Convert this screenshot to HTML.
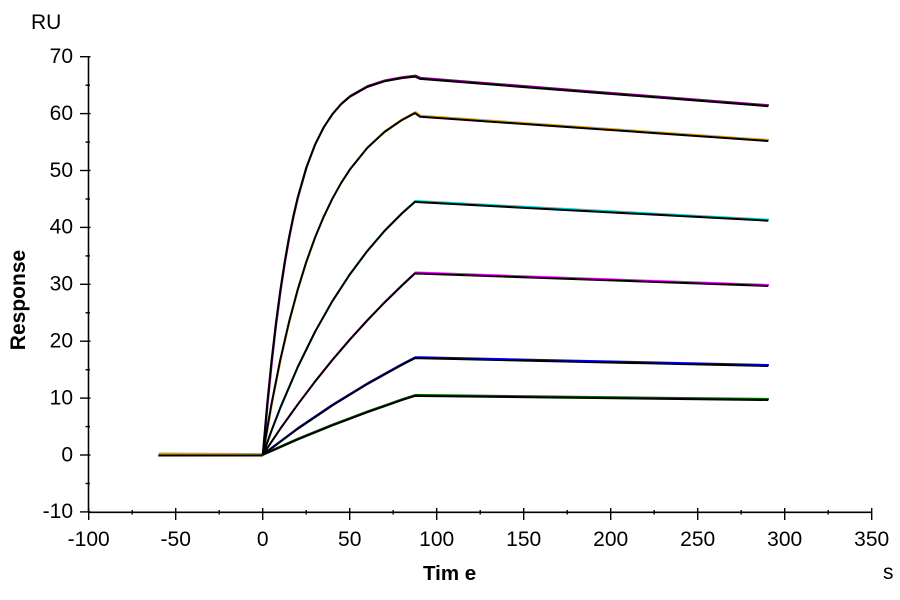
<!DOCTYPE html>
<html>
<head>
<meta charset="utf-8">
<style>
  html, body { margin: 0; padding: 0; background: #ffffff; }
  svg { display: block; }
  text { font-family: "Liberation Sans", Arial, sans-serif; fill: #000; }
</style>
</head>
<body>
<svg width="900" height="600" viewBox="0 0 900 600" xmlns="http://www.w3.org/2000/svg">
  <rect x="0" y="0" width="900" height="600" fill="#ffffff"/>

  <!-- Axes -->
  <g stroke="#000" stroke-width="1.6" fill="none">
    <line x1="88.5" y1="56.7" x2="88.5" y2="512.3"/>
    <line x1="88.5" y1="512.3" x2="871.7" y2="512.3"/>
  </g>

  <!-- Y ticks -->
  <g stroke="#000" stroke-width="1.4">
    <line x1="80" y1="56.7" x2="90.5" y2="56.7"/>
    <line x1="80" y1="113.6" x2="90.5" y2="113.6"/>
    <line x1="80" y1="170.5" x2="90.5" y2="170.5"/>
    <line x1="80" y1="227.4" x2="90.5" y2="227.4"/>
    <line x1="80" y1="284.3" x2="90.5" y2="284.3"/>
    <line x1="80" y1="341.2" x2="90.5" y2="341.2"/>
    <line x1="80" y1="398.1" x2="90.5" y2="398.1"/>
    <line x1="80" y1="455" x2="90.5" y2="455"/>
    <line x1="80" y1="511.9" x2="90.5" y2="511.9"/>
    <!-- minor -->
    <line x1="85.5" y1="85.2" x2="90" y2="85.2"/>
    <line x1="85.5" y1="142.1" x2="90" y2="142.1"/>
    <line x1="85.5" y1="199" x2="90" y2="199"/>
    <line x1="85.5" y1="255.9" x2="90" y2="255.9"/>
    <line x1="85.5" y1="312.8" x2="90" y2="312.8"/>
    <line x1="85.5" y1="369.7" x2="90" y2="369.7"/>
    <line x1="85.5" y1="426.6" x2="90" y2="426.6"/>
    <line x1="85.5" y1="483.5" x2="90" y2="483.5"/>
  </g>

  <!-- X ticks -->
  <g stroke="#000" stroke-width="1.4">
    <line x1="88.7" y1="508" x2="88.7" y2="520"/>
    <line x1="175.7" y1="508" x2="175.7" y2="520"/>
    <line x1="262.7" y1="508" x2="262.7" y2="520"/>
    <line x1="349.7" y1="508" x2="349.7" y2="520"/>
    <line x1="436.7" y1="508" x2="436.7" y2="520"/>
    <line x1="523.7" y1="508" x2="523.7" y2="520"/>
    <line x1="610.7" y1="508" x2="610.7" y2="520"/>
    <line x1="697.7" y1="508" x2="697.7" y2="520"/>
    <line x1="784.7" y1="508" x2="784.7" y2="520"/>
    <line x1="871.7" y1="508" x2="871.7" y2="520"/>
    <!-- minor -->
    <line x1="132.2" y1="510" x2="132.2" y2="514.5"/>
    <line x1="219.2" y1="510" x2="219.2" y2="514.5"/>
    <line x1="306.2" y1="510" x2="306.2" y2="514.5"/>
    <line x1="393.2" y1="510" x2="393.2" y2="514.5"/>
    <line x1="480.2" y1="510" x2="480.2" y2="514.5"/>
    <line x1="567.2" y1="510" x2="567.2" y2="514.5"/>
    <line x1="654.2" y1="510" x2="654.2" y2="514.5"/>
    <line x1="741.2" y1="510" x2="741.2" y2="514.5"/>
    <line x1="828.2" y1="510" x2="828.2" y2="514.5"/>
  </g>

  <!-- Y labels -->
  <g font-size="21" text-anchor="end">
    <text x="73" y="63">70</text>
    <text x="73" y="119.9">60</text>
    <text x="73" y="176.8">50</text>
    <text x="73" y="233.7">40</text>
    <text x="73" y="290.6">30</text>
    <text x="73" y="347.5">20</text>
    <text x="73" y="404.4">10</text>
    <text x="73" y="461.3">0</text>
    <text x="73" y="518.2">-10</text>
  </g>

  <!-- X labels -->
  <g font-size="21" text-anchor="middle">
    <text x="88.7" y="546">-100</text>
    <text x="175.7" y="546">-50</text>
    <text x="262.7" y="546">0</text>
    <text x="349.7" y="546">50</text>
    <text x="436.7" y="546">100</text>
    <text x="523.7" y="546">150</text>
    <text x="610.7" y="546">200</text>
    <text x="697.7" y="546">250</text>
    <text x="784.7" y="546">300</text>
    <text x="871.7" y="546">350</text>
  </g>

  <!-- Axis titles -->
  <text x="31" y="29" font-size="21">RU</text>
  <text x="883" y="579" font-size="21">s</text>
  <text x="423" y="580" font-size="20.5" font-weight="bold" xml:space="preserve">Tim e</text>
  <text transform="translate(25,300) rotate(-90)" font-size="21" font-weight="bold" text-anchor="middle">Response</text>

  <!-- Colored raw data (slightly offset under fits) -->
  <g fill="none" stroke-width="2" stroke-linejoin="round" transform="translate(0.6,-1)">
    <path stroke="#800080" d="M158.3,455 L262.7,455 L267.05,405.2 L271.4,361.9 L275.75,324.2 L280.1,291.5 L284.45,263.1 L288.8,238.3 L293.15,216.9 L297.5,198.2 L306.2,167.8 L314.9,144.8 L323.6,127.5 L332.3,114.4 L341,104.4 L349.7,96.9 L367.1,87 L384.5,81.3 L401.9,78.1 L414.9,76.6 L420.2,78.9 L594,92.6 L768.3,106.2"/>
    <path stroke="#D4A017" d="M158.3,454.5 L262.7,455 L271.4,404.3 L280.1,360.5 L288.8,322.8 L297.5,290.2 L306.2,262.1 L314.9,237.8 L323.6,216.9 L332.3,198.8 L341,183.2 L349.7,169.8 L367.1,148.1 L384.5,132 L401.9,120.1 L414.9,113.1 L420.2,116.8 L768.3,141"/>
    <path stroke="#00CCCC" d="M262.7,455 L271.4,430.8 L280.1,408.2 L297.5,367.5 L314.9,332 L332.3,301.3 L349.7,274.6 L367.1,251.3 L384.5,231 L401.9,213.5 L414.9,201.9 L420.2,202.3 L768.3,220.7"/>
    <path stroke="#FF00FF" d="M262.7,455 L280.1,429.1 L297.5,404.8 L314.9,381.8 L332.3,360.1 L349.7,339.8 L367.1,320.7 L384.5,302.6 L401.9,285.6 L414.9,273.5 L420.2,273.6 L768.3,286"/>
    <path stroke="#0000FF" d="M262.7,455 L297.5,429 L332.3,405.5 L367.1,384.2 L401.9,364.9 L414.9,358.2 L420.2,358.3 L768.3,366"/>
    <path stroke="#006400" d="M262.7,455 L297.5,439.6 L332.3,425.4 L367.1,412.3 L401.9,400.1 L414.9,395.9 L420.2,396 L768.3,400"/>
  </g>

  <!-- Black fitted curves -->
  <g fill="none" stroke="#000" stroke-width="2" stroke-linejoin="round">
    <path d="M158.3,455.5 L262.7,455.5"/>
    <path d="M262.7,455 L267.05,405.2 L271.4,361.9 L275.75,324.2 L280.1,291.5 L284.45,263.1 L288.8,238.3 L293.15,216.9 L297.5,198.2 L306.2,167.8 L314.9,144.8 L323.6,127.5 L332.3,114.4 L341,104.4 L349.7,96.9 L367.1,87 L384.5,81.3 L401.9,78.1 L414.9,76.6 L420.2,78.9 L594,92.6 L768.3,106.2"/>
    <path d="M262.7,455 L271.4,404.3 L280.1,360.5 L288.8,322.8 L297.5,290.2 L306.2,262.1 L314.9,237.8 L323.6,216.9 L332.3,198.8 L341,183.2 L349.7,169.8 L367.1,148.1 L384.5,132 L401.9,120.1 L414.9,113.1 L420.2,116.8 L768.3,141"/>
    <path d="M262.7,455 L271.4,430.8 L280.1,408.2 L297.5,367.5 L314.9,332 L332.3,301.3 L349.7,274.6 L367.1,251.3 L384.5,231 L401.9,213.5 L414.9,201.9 L420.2,202.3 L768.3,220.7"/>
    <path d="M262.7,455 L280.1,429.1 L297.5,404.8 L314.9,381.8 L332.3,360.1 L349.7,339.8 L367.1,320.7 L384.5,302.6 L401.9,285.6 L414.9,273.5 L420.2,273.6 L768.3,286"/>
    <path d="M262.7,455 L297.5,429 L332.3,405.5 L367.1,384.2 L401.9,364.9 L414.9,358.2 L420.2,358.3 L768.3,366"/>
    <path d="M262.7,455 L297.5,439.6 L332.3,425.4 L367.1,412.3 L401.9,400.1 L414.9,395.9 L420.2,396 L768.3,400"/>
  </g>
</svg>
</body>
</html>
